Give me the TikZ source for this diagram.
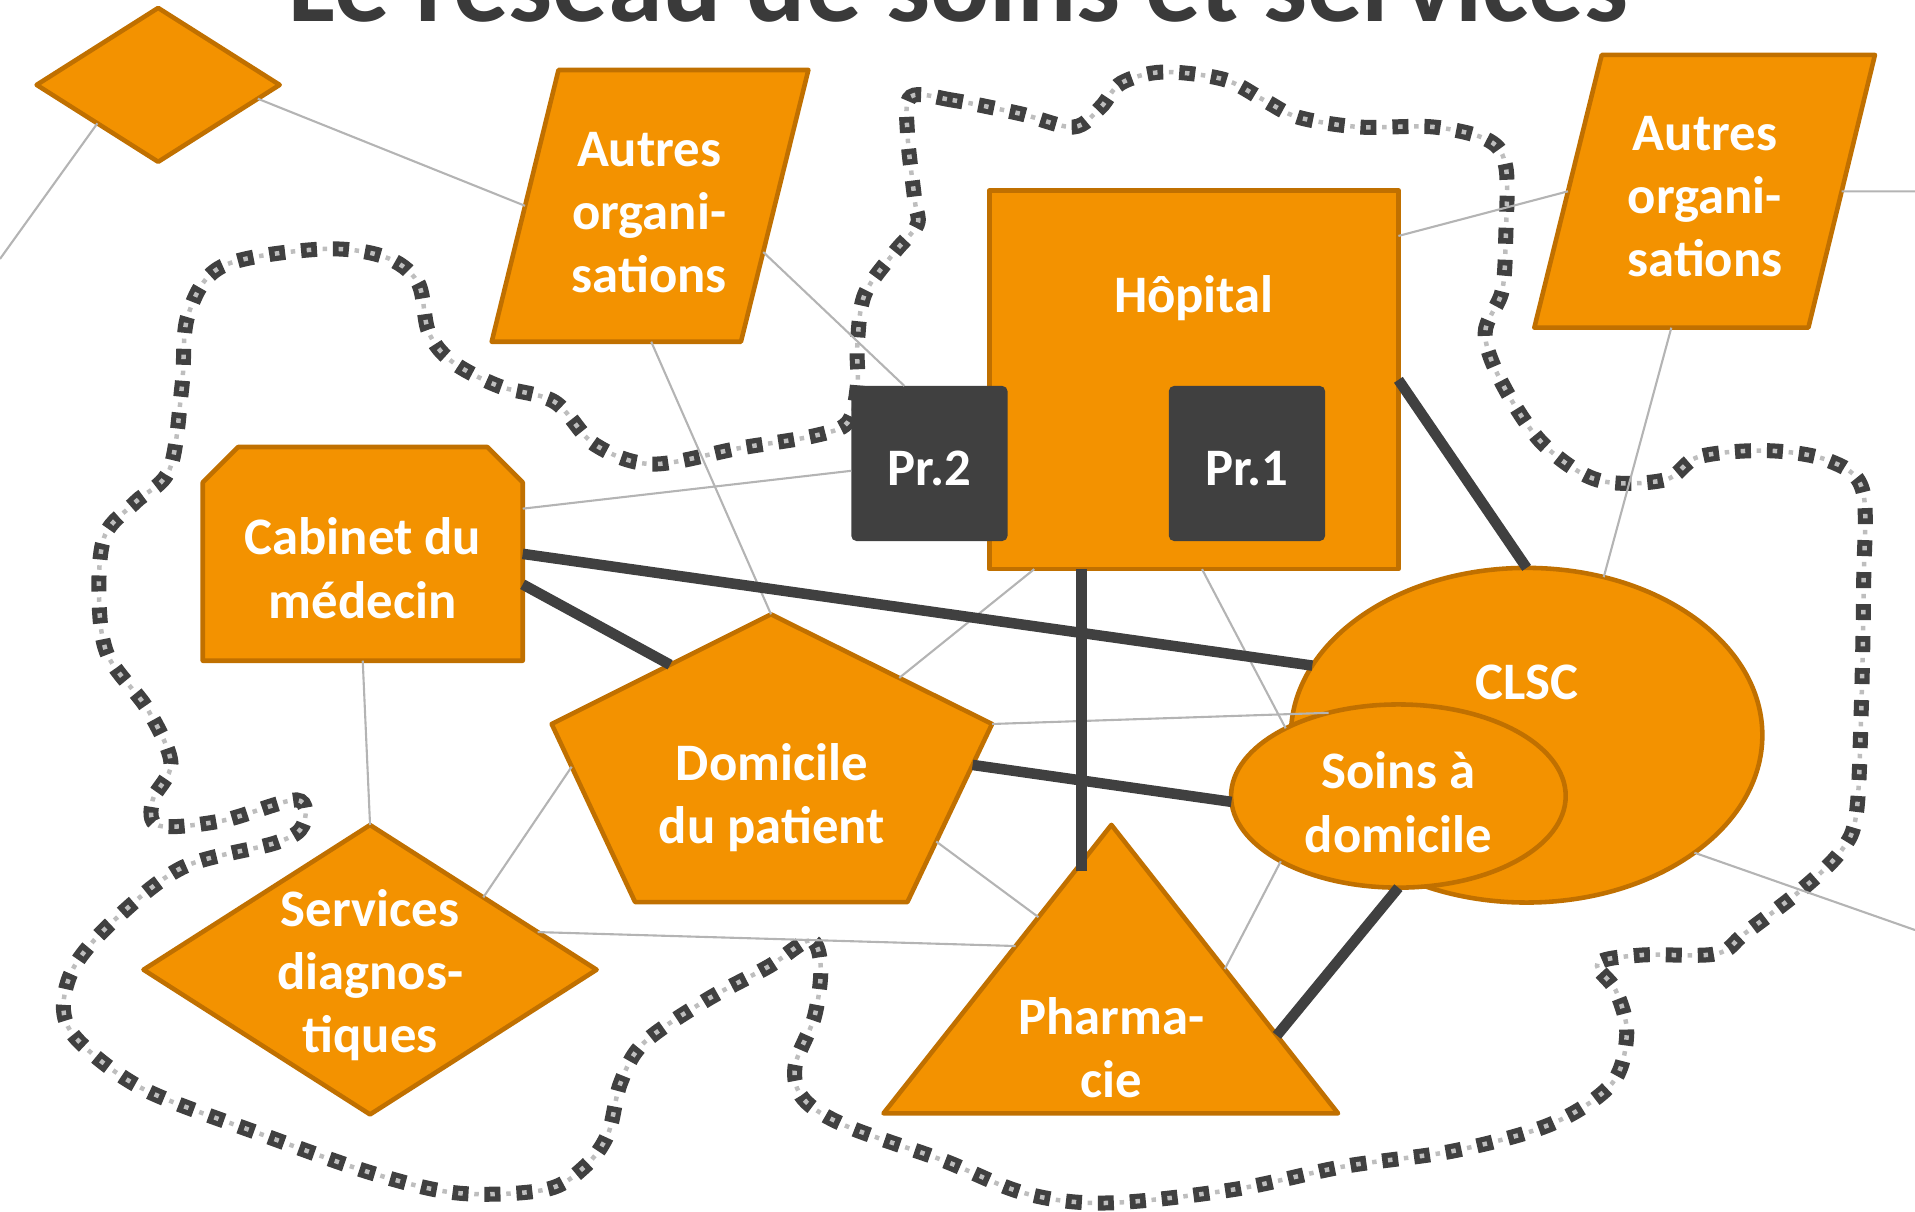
\documentclass[tikz,border=0pt]{standalone}
\usepackage{fontspec}
\setmainfont{Carlito}
\usetikzlibrary{shapes.geometric,calc}

\definecolor{orfill}{HTML}{F39200}
\definecolor{ordraw}{HTML}{C07000}
\definecolor{darkg}{HTML}{404040}
\definecolor{linkg}{HTML}{B4B4B4}
\definecolor{dotg}{HTML}{BEBEBE}
\definecolor{titleg}{HTML}{3A3A3A}

\newlength\pu
\setlength\pu{0.12213mm}

\tikzset{
  shp/.style={fill=orfill,draw=ordraw,line width=1.3pt,line join=round,inner sep=0pt,outer sep=0pt},
  prbox/.style={fill=darkg,rounded corners=1.5pt,inner sep=0pt,outer sep=0pt,minimum width=128\pu,minimum height=127\pu},
  lbl/.style={text=white,font=\fontsize{15}{18}\selectfont\bfseries,align=center,inner sep=0pt},
  link/.style={draw=linkg,line width=0.6pt},
  tie/.style={draw=darkg,line width=3pt},
  fence/.style={draw=darkg,line width=1.5mm,dash pattern=on 1.6mm off 1.6mm,dash phase=0.575mm,
    postaction={draw=dotg,line width=0.45mm,dash pattern=on 0.45mm off 1.15mm,dash phase=0mm}}
}

\begin{document}
\begin{tikzpicture}[x=0.12213mm,y=-0.12213mm]
\useasboundingbox (0,0) rectangle (1568,992);

% title (cut by the page top)
\node[font=\fontsize{31.4}{36}\selectfont\bfseries,text=titleg,anchor=base,inner sep=0pt] (title) at (784.5,17.2) {Le réseau de soins et services};

% the boundary of the network
\draw[fence] plot[smooth cycle,tension=0.55] coordinates {
 (746,79) (780,82) (835,93) (879,104) (901,88) (918,68) (952,59) (1002,65) (1035,82) (1063,96)
 (1113,104) (1174,104) (1219,115) (1233,137) (1233,191) (1230,238) (1216,273) (1230,314) (1263,363)
 (1308,393) (1363,393) (1391,374) (1447,369) (1497,377) (1525,401) (1526,476) (1524,581) (1520,666)
 (1508,696) (1478,726) (1429,764) (1405,781) (1344,782) (1308,789) (1323,811) (1332,846) (1320,887)
 (1271,920) (1192,942) (1101,955) (1010,974) (906,985) (839,977) (772,950) (693,922) (658,900)
 (651,873) (667,832) (672,791) (663,770) (630,791) (578,819) (527,854) (508,887) (498,928) (479,955)
 (447,974) (376,977) (306,961) (212,928) (118,892) (66,854) (52,827) (61,791) (94,753) (150,710)
 (226,690) (248,676) (243,655) (182,672) (130,676) (125,655) (140,625) (121,581) (88,536) (81,486)
 (86,438) (111,411) (139,384) (149,316) (154,258) (182,218) (262,204) (314,210) (342,231) (351,272)
 (370,296) (408,316) (454,329) (487,364) (534,380) (605,367) (666,357) (694,346) (702,316) (702,282)
 (708,241) (732,207) (751,184) (749,164) (743,109)};

% shapes
\node[shp,diamond,minimum width=199\pu,minimum height=126\pu] (tld) at (129.5,69.5) {};
\filldraw[shp] (457.3,57.3) coordinate (o1a) -- (661.9,57.3) coordinate (o1b) -- (606.7,279.8) coordinate (o1c) -- (402.6,279.8) coordinate (o1d) -- cycle;
\node[lbl] (org1) at (531.5,174) {Autres\\organi-\\sations};
\filldraw[shp] (1311.5,45) coordinate (o2a) -- (1535.2,45) coordinate (o2b) -- (1480.7,268.3) coordinate (o2c) -- (1256.3,268.3) coordinate (o2d) -- cycle;
\node[lbl] (org2) at (1396,161) {Autres\\organi-\\sations};
\node[shp,minimum width=335\pu,minimum height=310\pu,label={[lbl,yshift=67\pu]center:Hôpital}] (hosp) at (977.5,311) {};
\node[prbox,label={[lbl,yshift=-4\pu]center:Pr.2}] (pr2) at (761,379.5) {};
\node[prbox,label={[lbl,yshift=-4\pu]center:Pr.1}] (pr1) at (1021,379.5) {};
\filldraw[shp] (195,366) -- (399,366) -- (428,395) -- (428,541) -- (166,541) -- (166,395) -- cycle;
\node[inner sep=0pt,outer sep=0pt,minimum width=262\pu,minimum height=175\pu,label={[lbl,yshift=-11.7\pu]center:Cabinet du\\médecin}] (cab) at (297,453.5) {};
\filldraw[shp] (631.3,503) coordinate (dA) -- (812.3,592.8) coordinate (dB) -- (743,738.6) coordinate (dC) -- (520,738.6) coordinate (dD) -- (451.7,592.8) coordinate (dE) -- cycle;
\node[lbl] (dom) at (632,653) {Domicile\\du patient};
\node[shp,ellipse,minimum width=386\pu,minimum height=274\pu,label={[lbl,yshift=43.5\pu]center:CLSC}] (clsc) at (1250,602) {};
\node[shp,ellipse,minimum width=274\pu,minimum height=150\pu,label={[lbl,yshift=-5\pu]center:Soins à\\domicile}] (soins) at (1145,651.8) {};
\node[shp,diamond,minimum width=371\pu,minimum height=237\pu,label={[lbl,yshift=-4.6\pu]center:Services\\diagnos-\\tiques}] (srv) at (303,794) {};
\filldraw[shp] (910,675.4) coordinate (pT) -- (1095.6,911.6) coordinate (pR) -- (723.4,911.6) coordinate (pL) -- cycle;
\node[lbl] (pha) at (910,857.7) {Pharma-\\cie};

% loose ends at the page border
\coordinate (edgeL) at (0,212);
\coordinate (edgeR1) at (1568,156.7);
\coordinate (edgeR2) at (1568,761.5);

% thin links
\draw[link] (edgeL) -- ($(tld.west)!.5!(tld.south)$);
\draw[link] ($(tld.east)!.18!(tld.south)$) -- ($(o1d)!.5!(o1a)$);
\draw[link] ($(o1c)!.33!(o1b)$) -- ($(pr2.north west)!.34!(pr2.north east)$);
\draw[link] ($(o1d)!.64!(o1c)$) -- (dA);
\draw[link] ($(hosp.north east)!.12!(hosp.south east)$) -- ($(o2d)!.5!(o2a)$);
\draw[link] ($(o2c)!.5!(o2b)$) -- (edgeR1);
\draw[link] ($(o2d)!.5!(o2c)$) -- (clsc.64);
\draw[link] ([yshift=37\pu]cab.east) -- ([yshift=-6\pu]pr2.west);
\draw[link] (cab.south) -- (srv.north);
\draw[link] ($(hosp.south west)!.11!(hosp.south east)$) -- ($(dA)!.58!(dB)$);
\draw[link] ($(hosp.south west)!.52!(hosp.south east)$) -- (soins.149);
\draw[link] (dB) -- (soins.130);
\draw[link] ($(dB)!.66!(dC)$) -- ($(pT)!.32!(pL)$);
\draw[link] ($(srv.east)!.26!(srv.north)$) -- ($(pT)!.42!(pL)$);
\draw[link] ($(srv.north)!.5!(srv.east)$) -- ($(dE)!.24!(dD)$);
\draw[link] (soins.209) -- ($(pT)!.5!(pR)$);
\draw[link] (clsc.-35) -- (edgeR2);

% main ties
\draw[tie] (cab.east) -- (clsc.162);
\draw[tie] ([yshift=-25\pu]cab.east) -- ($(dE)!.54!(dA)$);
\draw[tie] ($(hosp.south west)!.225!(hosp.south east)$) -- ++(0,247);
\draw[tie] (hosp.east) -- (clsc.north);
\draw[tie] ($(dB)!.23!(dC)$) -- (soins.182);
\draw[tie] (soins.south) -- ($(pT)!.73!(pR)$);
\end{tikzpicture}
\end{document}
